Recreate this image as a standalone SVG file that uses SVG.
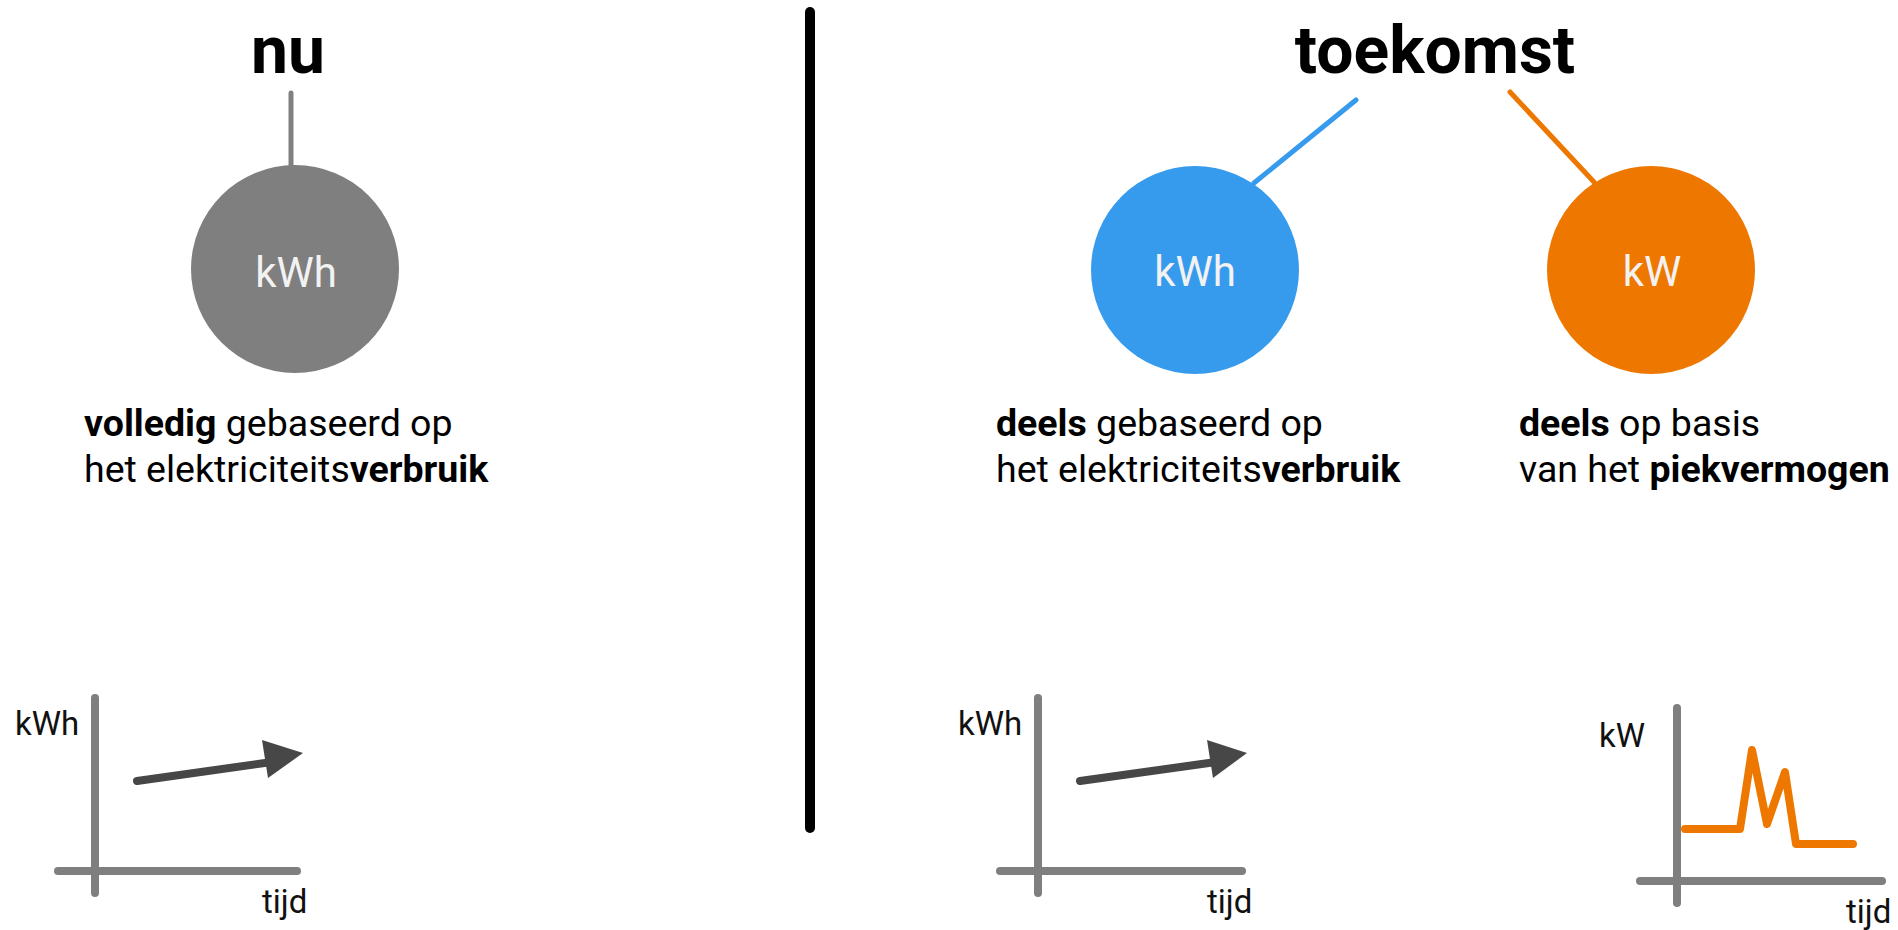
<svg xmlns="http://www.w3.org/2000/svg" width="1898" height="930" viewBox="0 0 1898 930">
<style>
.title{font-family:Roboto,"Liberation Sans",sans-serif;font-weight:bold;font-size:66px;fill:#000;text-anchor:middle}
.clabel{font-family:Roboto,"Liberation Sans",sans-serif;font-size:42px;fill:#f2f2f2;text-anchor:middle}
.body{font-family:Roboto,"Liberation Sans",sans-serif;font-size:37.5px;fill:#000}
.b{font-weight:bold}
.axlabel{font-family:Roboto,"Liberation Sans",sans-serif;font-size:33px;fill:#111}
.axis{stroke:#7f7f7f;stroke-width:8;stroke-linecap:round;fill:none}
.trend{stroke:#474747;stroke-width:8;stroke-linecap:round;fill:none}
</style>
<rect width="1898" height="930" fill="#fff"/>
<g id="divider"><line x1="810" y1="12" x2="810" y2="828" stroke="#000" stroke-width="10" stroke-linecap="round"/></g>
<g id="connectors">
<line x1="291" y1="93" x2="291" y2="167" stroke="#808080" stroke-width="5" stroke-linecap="round"/>
<line x1="1356" y1="100" x2="1254" y2="183" stroke="#379BED" stroke-width="5" stroke-linecap="round"/>
<line x1="1510" y1="92" x2="1594" y2="182" stroke="#EE7700" stroke-width="5" stroke-linecap="round"/>
</g>
<g id="title-nu"><text class="title" x="288" y="73">nu</text></g>
<g id="title-toekomst"><text class="title" x="1435" y="73">toekomst</text></g>
<g id="node-now-kwh">
<circle cx="295" cy="269" r="104" fill="#7f7f7f"/>
<text class="clabel" x="296" y="287">kWh</text>
</g>
<g id="node-future-kwh">
<circle cx="1195" cy="270" r="104" fill="#379BED"/>
<text class="clabel" x="1195" y="286">kWh</text>
</g>
<g id="node-future-kw">
<circle cx="1651" cy="270" r="104" fill="#EE7700"/>
<text class="clabel" x="1652" y="286">kW</text>
</g>
<g id="desc-now">
<text class="body" x="84" y="436"><tspan class="b">volledig</tspan> gebaseerd op</text>
<text class="body" x="84" y="482">het elektriciteits<tspan class="b">verbruik</tspan></text>
</g>
<g id="desc-future-kwh">
<text class="body" x="996" y="436"><tspan class="b">deels</tspan> gebaseerd op</text>
<text class="body" x="996" y="482">het elektriciteits<tspan class="b">verbruik</tspan></text>
</g>
<g id="desc-future-kw">
<text class="body" x="1519" y="436"><tspan class="b">deels</tspan> op basis</text>
<text class="body" x="1519" y="482">van het <tspan class="b">piekvermogen</tspan></text>
</g>
<g id="chart-now">
<line class="axis" x1="95" y1="698" x2="95" y2="893"/>
<line class="axis" x1="58" y1="871" x2="297" y2="871"/>
<line class="trend" x1="137" y1="781" x2="272" y2="762"/>
<polygon points="262,740 303,753 268,778" fill="#474747"/>
<text class="axlabel" x="15" y="735">kWh</text>
<text class="axlabel" x="262" y="913">tijd</text>
</g>
<g id="chart-future-kwh">
<line class="axis" x1="1038" y1="698" x2="1038" y2="893"/>
<line class="axis" x1="1000" y1="871" x2="1242" y2="871"/>
<line class="trend" x1="1080" y1="781" x2="1216" y2="762"/>
<polygon points="1207,740 1247,753 1213,778" fill="#474747"/>
<text class="axlabel" x="958" y="735">kWh</text>
<text class="axlabel" x="1207" y="913">tijd</text>
</g>
<g id="chart-future-kw">
<line class="axis" x1="1677" y1="708" x2="1677" y2="903"/>
<line class="axis" x1="1640" y1="881" x2="1882" y2="881"/>
<polyline points="1685,829 1740,829 1752,750 1767,824 1785,772 1796,844 1853,844" fill="none" stroke="#EE7700" stroke-width="8" stroke-linecap="round" stroke-linejoin="round"/>
<text class="axlabel" x="1599" y="747">kW</text>
<text class="axlabel" x="1846" y="923">tijd</text>
</g>
</svg>
